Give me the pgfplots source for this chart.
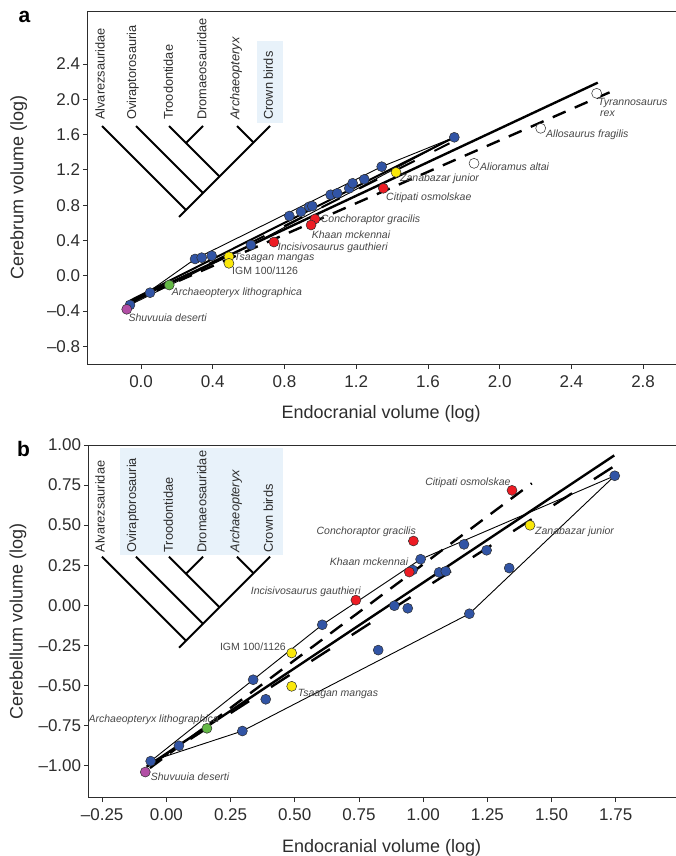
\documentclass[border=0pt]{standalone}
\usepackage{fontspec}
\setmainfont{Liberation Sans}
\usepackage{pgfplots}
\pgfplotsset{compat=1.18}
\definecolor{bl}{RGB}{49,84,165}
\definecolor{rd}{RGB}{237,28,36}
\definecolor{yl}{RGB}{250,232,10}
\definecolor{gr}{RGB}{100,185,70}
\definecolor{mg}{RGB}{178,78,165}
\definecolor{lb}{RGB}{232,242,250}
\definecolor{ax}{RGB}{45,45,45}
\definecolor{lab}{RGB}{70,70,70}
\begin{document}
\begin{tikzpicture}
\pgfplotsset{
 common/.style={
  scale only axis, clip=false,
  axis line style={ax, line width=0.9pt},
  tick align=outside, tick pos=left, major tick length=4.5pt,
  tick style={ax, line width=0.9pt},
  tick label style={font=\fontsize{17}{17}\selectfont, text=ax},
  yticklabel style={inner sep=2.5pt},
  xticklabel style={inner sep=2.5pt, yshift=-4pt},
  label style={font=\fontsize{18}{18}\selectfont, text=ax},
  /pgf/number format/assume math mode=true,
 },
 dot/.style={only marks, mark=*, mark size=5pt, mark options={fill=#1, draw=ax, line width=0.5pt}},
}
% ---------------- panel a ----------------
\begin{axis}[common, at={(87.3pt,-364pt)}, anchor=south west,
  width=589.5pt, height=353pt,
  xmin=-0.3, xmax=2.988, ymin=-1, ymax=3,
  xtick={0,0.4,0.8,1.2,1.6,2.0,2.4,2.8},
  xticklabels={0.0,0.4,0.8,1.2,1.6,2.0,2.4,2.8},
  ytick={-0.8,-0.4,0,0.4,0.8,1.2,1.6,2.0,2.4},
  yticklabels={\textendash0.8,\textendash0.4,0.0,0.4,0.8,1.2,1.6,2.0,2.4},
  xlabel={Endocranial volume (log)}, ylabel={Cerebrum volume (log)},
  xlabel style={at={(axis description cs:0.4985,-0.1416)}, anchor=center},
  ylabel style={at={(axis description cs:-0.1165,0.5)}, anchor=center},
]
\addplot[black, line width=2.4pt, dash pattern=on 14pt off 10pt] coordinates {(-0.034,-0.275) (2.634,2.097)};
\addplot[black, line width=2.4pt] coordinates {(-0.062,-0.294) (2.547,2.188)};
\addplot[black, line width=2pt] coordinates {(-0.06,-0.28) (1.733,1.555)};
\addplot[black, line width=2pt, dash pattern=on 20pt off 22pt] coordinates {(-0.04,-0.29) (1.72,1.50)};
\addplot[black, line width=0.9pt] coordinates {(-0.062,-0.331) (0.301,0.190) (1.342,1.236) (1.747,1.569)};
\addplot[black, line width=0.9pt] coordinates {(-0.062,-0.331) (0.613,0.348) (1.747,1.569)};
\addplot[dot=bl] coordinates {(-0.062,-0.331) (0.050,-0.192) (0.301,0.190) (0.338,0.205) (0.394,0.227) (0.613,0.348) (0.827,0.677) (0.892,0.726) (0.938,0.782) (0.955,0.790) (1.057,0.918) (1.094,0.934) (1.161,0.991) (1.180,1.048) (1.245,1.093) (1.342,1.236) (1.747,1.569)};
\addplot[dot=rd] coordinates {(0.741,0.382) (0.970,0.643) (0.948,0.575) (1.351,0.991)};
\addplot[dot=yl] coordinates {(0.490,0.216) (0.490,0.141) (1.422,1.172)};
\addplot[dot=gr] coordinates {(0.157,-0.105)};
\addplot[dot=mg] coordinates {(-0.080,-0.380)};
\addplot[dot=white] coordinates {(1.857,1.274) (2.229,1.671) (2.541,2.067)};
\end{axis}
% ---------------- panel b ----------------
\begin{axis}[common, at={(88.3pt,-797.5pt)}, anchor=south west,
  width=588.5pt, height=352.5pt,
  xmin=-0.304, xmax=1.9877, ymin=-1.2, ymax=1,
  xtick={-0.25,0,0.25,0.5,0.75,1,1.25,1.5,1.75},
  xticklabels={\textendash0.25,0.00,0.25,0.50,0.75,1.00,1.25,1.50,1.75},
  ytick={-1,-0.75,-0.5,-0.25,0,0.25,0.5,0.75,1},
  yticklabels={\textendash1.00,\textendash0.75,\textendash0.50,\textendash0.25,0.00,0.25,0.50,0.75,1.00},
  xlabel={Endocranial volume (log)}, ylabel={Cerebellum volume (log)},
  xlabel style={at={(axis description cs:0.4985,-0.1416)}, anchor=center},
  ylabel style={at={(axis description cs:-0.1195,0.5)}, anchor=center},
]
\addplot[black, line width=2.4pt, dash pattern=on 15pt off 10pt] coordinates {(-0.064,-1.016) (1.423,0.761)};
\addplot[black, line width=2.4pt, dash pattern=on 22pt off 26pt] coordinates {(-0.064,-0.997) (1.739,0.863)};
\addplot[black, line width=2.4pt] coordinates {(-0.077,-1.008) (1.744,0.935)};
\addplot[black, line width=0.9pt] coordinates {(-0.061,-0.973) (0.338,-0.465) (0.607,-0.122) (0.990,0.287) (1.746,0.808)};
\addplot[black, line width=0.9pt] coordinates {(-0.061,-0.973) (0.296,-0.785) (1.180,-0.053) (1.746,0.808)};
\addplot[dot=bl] coordinates {(-0.061,-0.973) (0.049,-0.877) (0.296,-0.785) (0.338,-0.465) (0.387,-0.587) (0.607,-0.122) (0.825,-0.280) (0.888,-0.003) (0.940,-0.019) (0.959,0.220) (0.990,0.287) (1.062,0.205) (1.088,0.212) (1.159,0.380) (1.180,-0.053) (1.247,0.343) (1.335,0.232) (1.746,0.808)};
\addplot[dot=rd] coordinates {(0.738,0.032) (0.946,0.207) (0.962,0.401) (1.346,0.717)};
\addplot[dot=yl] coordinates {(0.488,-0.298) (0.488,-0.506) (1.416,0.499)};
\addplot[dot=gr] coordinates {(0.158,-0.768)};
\addplot[dot=mg] coordinates {(-0.082,-1.041)};
\end{axis}
% ---------------- annotations (pixel frame) ----------------
\begin{scope}[x=1pt, y=-1pt]
 \node[font=\fontsize{21}{21}\selectfont\bfseries, anchor=base, inner sep=0] at (24.5,23) {a};
 \node[font=\fontsize{21}{21}\selectfont\bfseries, anchor=base, inner sep=0] at (23.5,456) {b};
 % cladograms
 \fill[lb] (257,41) rectangle (283,123);
 \fill[lb] (120,448.3) rectangle (283.3,555);
 \foreach \dy/\ty in {0/120, 430.7/552.7}{
  \begin{scope}[yshift=-\dy pt]
   \draw[black, line width=2pt] (179,217) -- (270,126);
   \draw[black, line width=2pt] (102,126) -- (186,210);
   \draw[black, line width=2pt] (136,126) -- (203,193);
   \draw[black, line width=2pt] (169,126) -- (219.5,176.5);
   \draw[black, line width=2pt] (203,126) -- (186,143);
   \draw[black, line width=2pt] (237,126) -- (253.5,142.5);
  \end{scope}
  \begin{scope}[every node/.style={rotate=90, anchor=west, inner sep=0, font=\fontsize{12.8}{13}\selectfont, text=ax}]
   \node at (100,\ty) {Alvarezsauridae};
   \node at (132.7,\ty) {Oviraptorosauria};
   \node at (168.3,\ty) {Troodontidae};
   \node at (201.7,\ty) {Dromaeosauridae};
   \node at (236,\ty) {\itshape Archaeopteryx};
   \node at (268.3,\ty) {Crown birds};
  \end{scope}
 }
 % species labels
 \begin{scope}[every node/.style={inner sep=0, font=\fontsize{10.5}{11}\selectfont\itshape, text=lab}]
  \node[anchor=base west] at (598,105.2) {Tyrannosaurus};
  \node[anchor=base west] at (600,116.2) {rex};
  \node[anchor=base west] at (546,137.5) {Allosaurus fragilis};
  \node[anchor=base west] at (480,170.8) {Alioramus altai};
  \node[anchor=base west] at (400,181.8) {Zanabazar junior};
  \node[anchor=base west] at (386,200.2) {Citipati osmolskae};
  \node[anchor=base west] at (320.7,222.8) {Conchoraptor gracilis};
  \node[anchor=base west] at (311.7,238.5) {Khaan mckennai};
  \node[anchor=base west] at (277.7,250.8) {Incisivosaurus gauthieri};
  \node[anchor=base west] at (234,260.5) {Tsaagan mangas};
  \node[anchor=base west, font=\fontsize{10.5}{11}\selectfont\upshape] at (232,274.5) {IGM 100/1126};
  \node[anchor=base west] at (171.7,295.2) {Archaeopteryx lithographica};
  \node[anchor=base west] at (128.3,321.8) {Shuvuuia deserti};
  %
  \node[anchor=base east] at (510.7,485.2) {Citipati osmolskae};
  \node[anchor=base east] at (416,534.5) {Conchoraptor gracilis};
  \node[anchor=base east] at (408.3,565.2) {Khaan mckennai};
  \node[anchor=base west] at (250.7,594) {Incisivosaurus gauthieri};
  \node[anchor=base west] at (535,534.2) {Zanabazar junior};
  \node[anchor=base east, font=\fontsize{10.5}{11}\selectfont\upshape] at (286,650.2) {IGM 100/1126};
  \node[anchor=base west] at (297.7,696.2) {Tsaagan mangas};
  \node[anchor=base east] at (219,722.8) {Archaeopteryx lithographica};
  \node[anchor=base west] at (150.7,780.2) {Shuvuuia deserti};
 \end{scope}
\end{scope}
\pgfresetboundingbox
\path[use as bounding box] (0pt,0pt) rectangle (675pt,-856pt);
\end{tikzpicture}
\end{document}
